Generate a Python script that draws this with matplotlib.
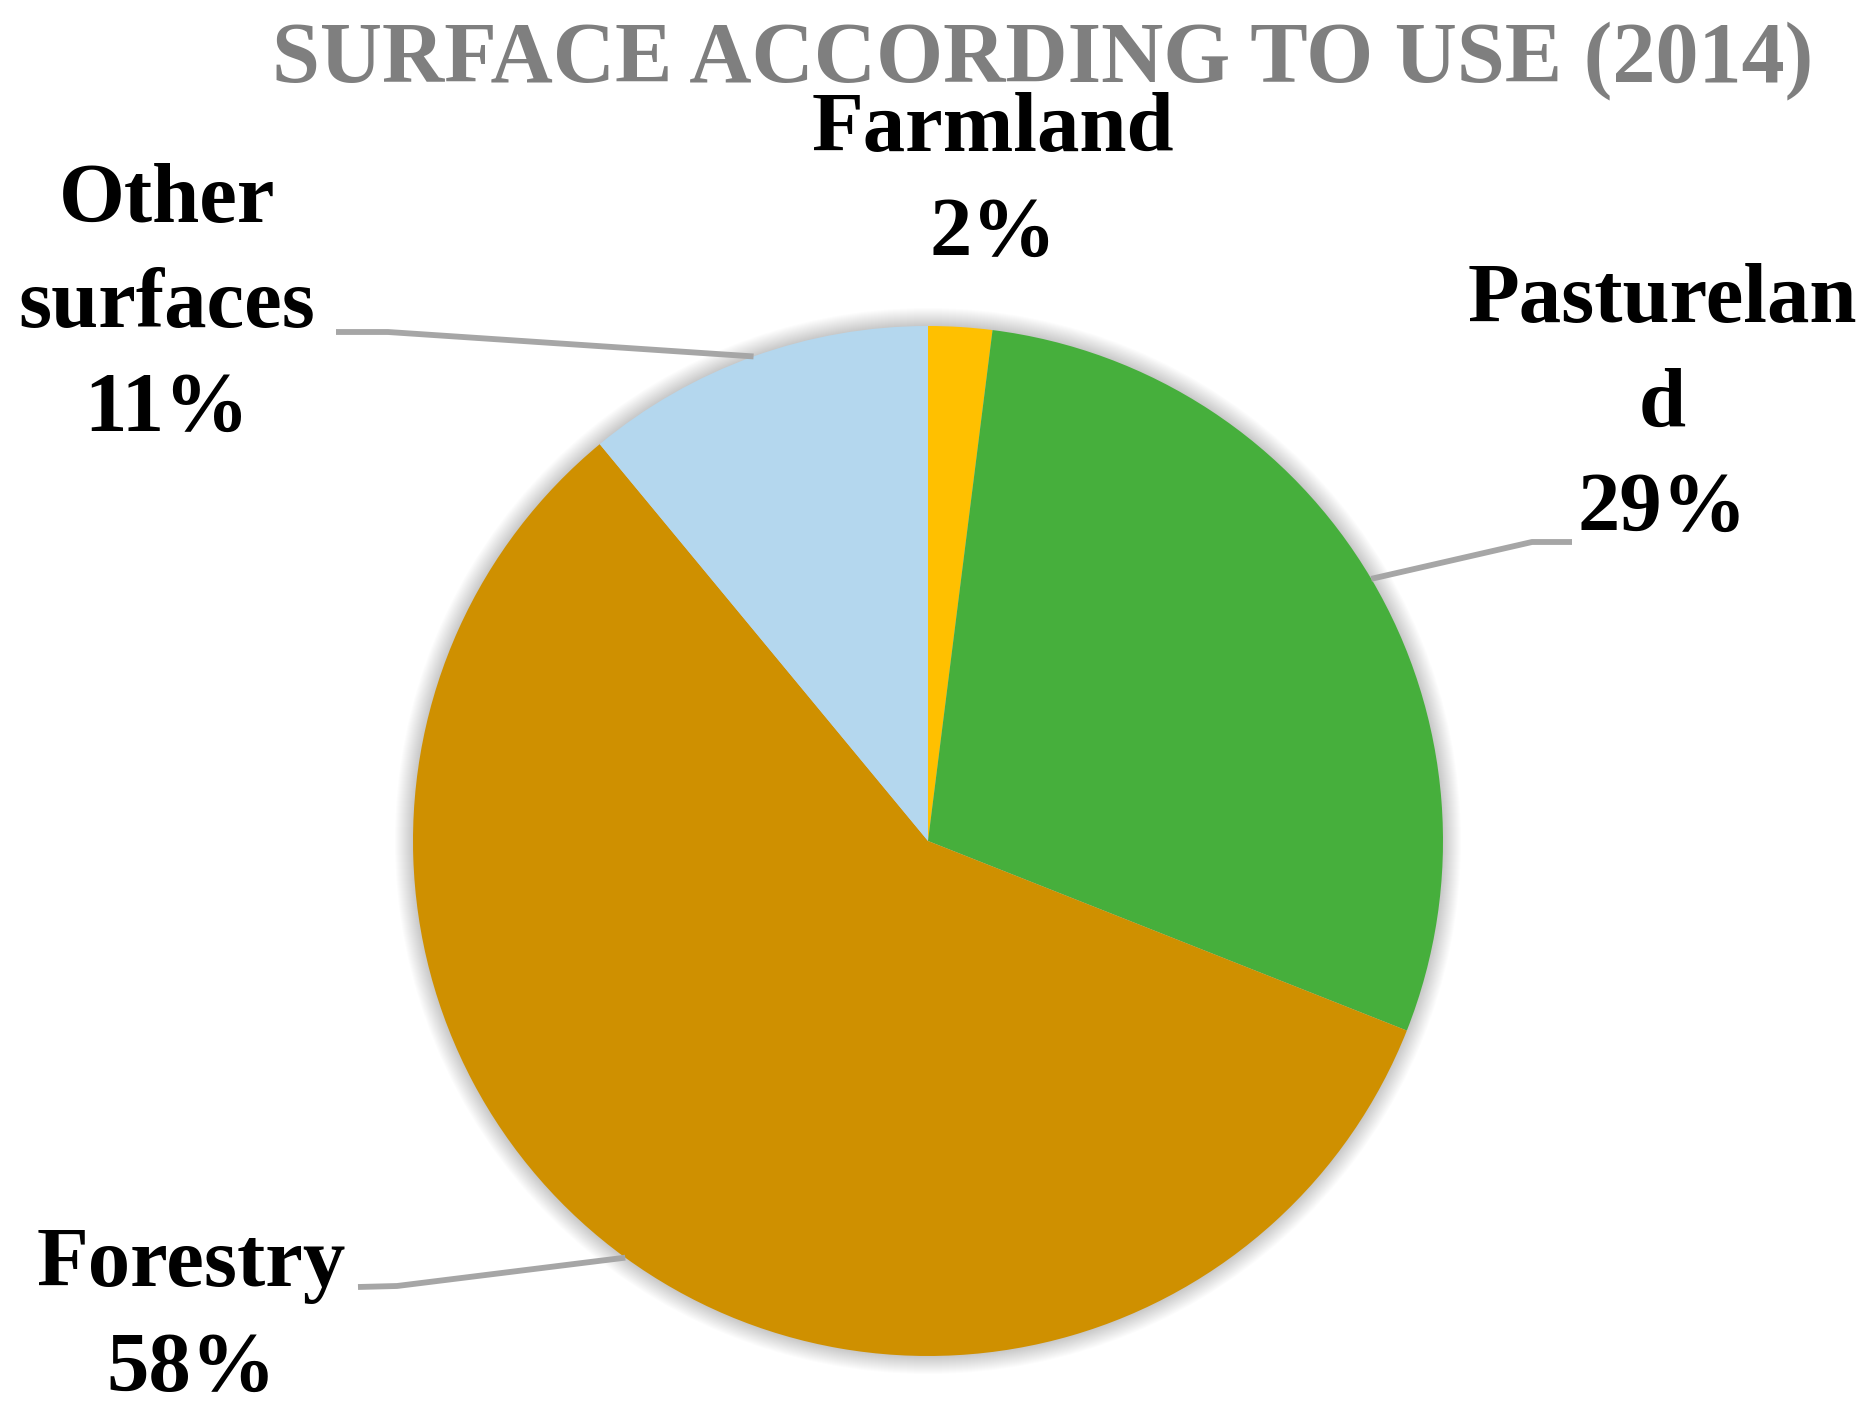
import matplotlib.pyplot as plt
import numpy as np

# data
labels = ['Farmland', 'Pastureland', 'Forestry', 'Other surfaces']
values = [2, 29, 58, 11]
colors = ['#FFC000', '#46AF3C', '#CF9000', '#B4D7EE']

W, H = 1871, 1422
fig = plt.figure(figsize=(W / 100, H / 100), dpi=100)
ax = fig.add_axes([0, 0, 1, 1])

cx, cy, r = 928, H - 841, 515

# soft shadow around the pie
for i in range(18):
    ax.add_patch(plt.Circle((cx, cy), r + 18 - i, color='black',
                            alpha=0.01, lw=0, zorder=0))

wedges, _ = ax.pie(values, colors=colors, startangle=90, counterclock=False,
                   center=(cx, cy), radius=r, wedgeprops=dict(lw=0),
                   frame=True)
ax.set_xlim(0, W)
ax.set_ylim(0, H)
ax.set_aspect('equal')
ax.axis('off')

font = dict(family='Liberation Serif', weight='bold', color='black', fontsize=61)

ax.text(1043, H - 81, 'SURFACE ACCORDING TO USE (2014)', ha='center', va='baseline',
        family='Liberation Serif', weight='bold', color='#7F7F7F', fontsize=62)

# labels: text, position (pixel coords from top), leader elbow points
label_txt = ['Farmland\n2%', 'Pasturelan\nd\n29%', 'Forestry\n58%', 'Other\nsurfaces\n11%']
label_pos = [(993, 183), (1662, 406), (191, 1318), (167, 306)]
elbows = [None, [(1532, 542), (1572, 542)], [(397, 1286), (358, 1287)],
          [(388, 332), (336, 332)]]

for w, txt, pos, elb in zip(wedges, label_txt, label_pos, elbows):
    ax.text(pos[0], H - pos[1], txt, ha='center', va='center',
            linespacing=1.46, **font)
    if elb is None:
        continue
    ang = np.deg2rad((w.theta1 + w.theta2) / 2)
    x0, y0 = cx + r * np.cos(ang), cy + r * np.sin(ang)
    xs = [x0] + [p[0] for p in elb]
    ys = [y0] + [H - p[1] for p in elb]
    ax.plot(xs, ys, color='#A6A6A6', lw=4.2, solid_capstyle='butt', zorder=3)

fig.savefig('out.png', dpi=100, facecolor='white')
